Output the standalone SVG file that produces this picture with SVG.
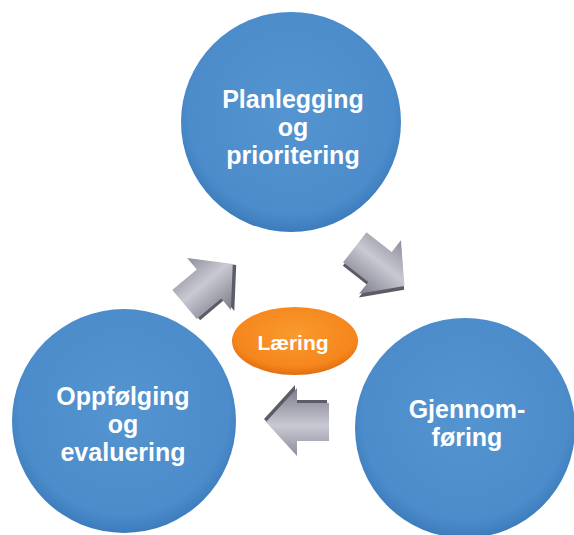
<svg xmlns="http://www.w3.org/2000/svg" width="574" height="535" viewBox="0 0 574 535">
<defs>
<radialGradient id="blue" cx="50%" cy="45%" r="55%">
<stop offset="0" stop-color="#5494d0"/>
<stop offset="0.85" stop-color="#4c8cca"/>
<stop offset="1" stop-color="#3d7cbc"/>
</radialGradient>
<radialGradient id="orange" cx="50%" cy="40%" r="60%">
<stop offset="0" stop-color="#f99a2e"/>
<stop offset="0.8" stop-color="#f5861c"/>
<stop offset="1" stop-color="#e06e10"/>
</radialGradient>
<linearGradient id="gray" x1="0" y1="0" x2="0" y2="1">
<stop offset="0" stop-color="#8e8e9c"/>
<stop offset="0.45" stop-color="#c9c9d3"/>
<stop offset="1" stop-color="#7c7c8a"/>
</linearGradient>
<g id="arrow">
<path d="M-32,-19 L0,-19 L0,-34 L31,0 L0,34 L0,19 L-32,19 Z" fill="#5c5c68" transform="translate(2,3)"/>
<path d="M-32,-19 L0,-19 L0,-34 L31,0 L0,34 L0,19 L-32,19 Z" fill="url(#gray)"/>
</g>
<style>
.lbl{font-family:"Liberation Sans",Arial,sans-serif;font-weight:bold;fill:#ffffff;text-anchor:middle}
.big{font-size:25px}
.mid{font-size:21px}
</style>
</defs>
<rect width="574" height="535" fill="#ffffff"/>
<g id="connectors">
<use href="#arrow" transform="translate(209,284) rotate(-40)"/>
<use href="#arrow" transform="translate(380,267) rotate(38)"/>
<use href="#arrow" transform="translate(297,422) rotate(180)"/>
</g>
<g id="node-planlegging">
<circle cx="291" cy="122" r="110" fill="url(#blue)"/>
<text class="lbl big" x="293" y="108">Planlegging</text>
<text class="lbl big" x="293" y="136">og</text>
<text class="lbl big" x="293" y="164">prioritering</text>
</g>
<g id="node-oppfolging">
<circle cx="124" cy="421" r="112" fill="url(#blue)"/>
<text class="lbl big" x="123" y="405">Oppfølging</text>
<text class="lbl big" x="123" y="433">og</text>
<text class="lbl big" x="123" y="461">evaluering</text>
</g>
<g id="node-gjennomforing">
<circle cx="465" cy="428" r="110" fill="url(#blue)"/>
<text class="lbl big" x="467" y="418">Gjennom-</text>
<text class="lbl big" x="467" y="446">føring</text>
</g>
<g id="node-laering">
<ellipse cx="295" cy="341" rx="63" ry="34" fill="url(#orange)"/>
<text class="lbl mid" x="293" y="350">Læring</text>
</g>
</svg>
